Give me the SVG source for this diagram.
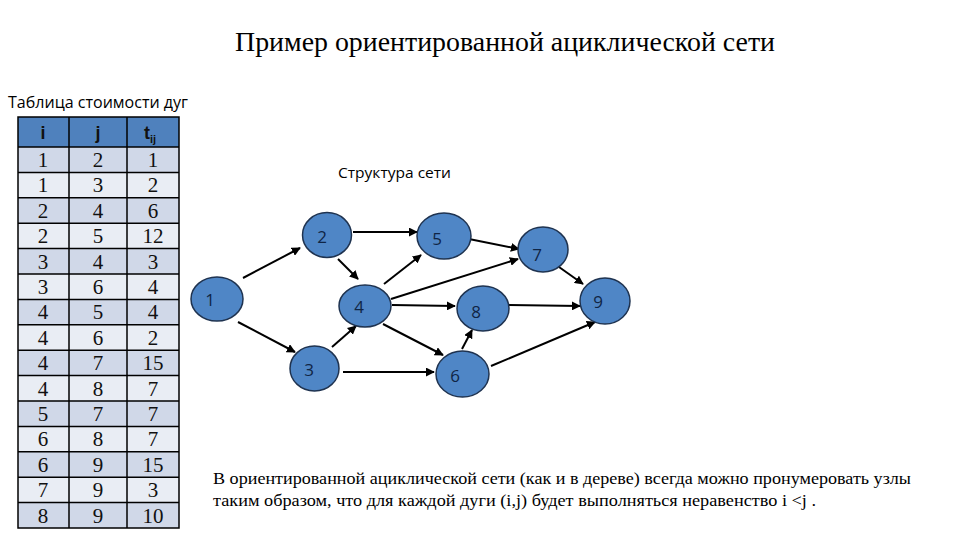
<svg xmlns="http://www.w3.org/2000/svg" width="960" height="540" viewBox="0 0 960 540">
<defs>
<style>
.ser{font-family:"Liberation Serif","Times New Roman",serif;fill:#000}
.sans{font-family:"Open Sans","Liberation Sans",sans-serif;fill:#000}
.cell{font-family:"Liberation Serif",serif;font-size:21px;fill:#111;text-anchor:middle}
.hd{font-family:"Liberation Sans",sans-serif;font-size:18px;font-weight:bold;fill:#111;text-anchor:middle}
.rd{fill:#D0D8E8}
.rl{fill:#E9EDF4}
.grid{stroke:#000;stroke-width:1.5;fill:none}
.node ellipse{fill:#4F86C6;stroke:#1F3350;stroke-width:1.5}
.node text{font-family:"Open Sans","Liberation Sans",sans-serif;font-size:17px;fill:#0F2545;text-anchor:middle;dominant-baseline:central}
.edge{stroke:#000;stroke-width:2;fill:none;marker-end:url(#ah)}
</style>
<marker id="ah" viewBox="0 0 10 10" refX="9" refY="5" markerWidth="4.5" markerHeight="4.5" orient="auto" markerUnits="strokeWidth">
<path d="M0,0 L10,5 L0,10 z" fill="#000"/>
</marker>
</defs>
<rect width="960" height="540" fill="#fff"/>
<text class="ser" x="505" y="51" font-size="28" text-anchor="middle" textLength="540" lengthAdjust="spacingAndGlyphs">Пример ориентированной ациклической сети</text>
<text class="sans" x="8" y="108" font-size="15.5" textLength="180" lengthAdjust="spacingAndGlyphs">Таблица стоимости дуг</text>

<g id="table">
<rect x="18" y="117" width="161" height="30" fill="#4F81BD"/>
<rect class="rd" x="18" y="147" width="161" height="25.4"/>
<rect class="rl" x="18" y="172.4" width="161" height="25.4"/>
<rect class="rd" x="18" y="197.8" width="161" height="25.4"/>
<rect class="rl" x="18" y="223.2" width="161" height="25.4"/>
<rect class="rd" x="18" y="248.6" width="161" height="25.4"/>
<rect class="rl" x="18" y="274" width="161" height="25.4"/>
<rect class="rd" x="18" y="299.4" width="161" height="25.4"/>
<rect class="rl" x="18" y="324.8" width="161" height="25.4"/>
<rect class="rd" x="18" y="350.2" width="161" height="25.4"/>
<rect class="rl" x="18" y="375.6" width="161" height="25.4"/>
<rect class="rd" x="18" y="401" width="161" height="25.4"/>
<rect class="rl" x="18" y="426.4" width="161" height="25.4"/>
<rect class="rd" x="18" y="451.8" width="161" height="25.4"/>
<rect class="rl" x="18" y="477.2" width="161" height="25.4"/>
<rect class="rd" x="18" y="502.6" width="161" height="25.4"/>
<path class="grid" d="M18,117 H179 V528 H18 Z M69,117 V528 M127,117 V528 M18,147 H179 M18,172.4 H179 M18,197.8 H179 M18,223.2 H179 M18,248.6 H179 M18,274 H179 M18,299.4 H179 M18,324.8 H179 M18,350.2 H179 M18,375.6 H179 M18,401 H179 M18,426.4 H179 M18,451.8 H179 M18,477.2 H179 M18,502.6 H179"/>
<text class="hd" x="43" y="139">i</text>
<text class="hd" x="98" y="139">j</text>
<text class="hd" x="150" y="139">t<tspan font-size="11" dy="4">ij</tspan></text>
<g class="cell">
<text x="43" y="167">1</text><text x="98" y="167">2</text><text x="153" y="167">1</text>
<text x="43" y="192.4">1</text><text x="98" y="192.4">3</text><text x="153" y="192.4">2</text>
<text x="43" y="217.8">2</text><text x="98" y="217.8">4</text><text x="153" y="217.8">6</text>
<text x="43" y="243.2">2</text><text x="98" y="243.2">5</text><text x="153" y="243.2">12</text>
<text x="43" y="268.6">3</text><text x="98" y="268.6">4</text><text x="153" y="268.6">3</text>
<text x="43" y="294">3</text><text x="98" y="294">6</text><text x="153" y="294">4</text>
<text x="43" y="319.4">4</text><text x="98" y="319.4">5</text><text x="153" y="319.4">4</text>
<text x="43" y="344.8">4</text><text x="98" y="344.8">6</text><text x="153" y="344.8">2</text>
<text x="43" y="370.2">4</text><text x="98" y="370.2">7</text><text x="153" y="370.2">15</text>
<text x="43" y="395.6">4</text><text x="98" y="395.6">8</text><text x="153" y="395.6">7</text>
<text x="43" y="421">5</text><text x="98" y="421">7</text><text x="153" y="421">7</text>
<text x="43" y="446.4">6</text><text x="98" y="446.4">8</text><text x="153" y="446.4">7</text>
<text x="43" y="471.8">6</text><text x="98" y="471.8">9</text><text x="153" y="471.8">15</text>
<text x="43" y="497.2">7</text><text x="98" y="497.2">9</text><text x="153" y="497.2">3</text>
<text x="43" y="522.6">8</text><text x="98" y="522.6">9</text><text x="153" y="522.6">10</text>
</g>
</g>

<text class="sans" x="338" y="178" font-size="15" textLength="113" lengthAdjust="spacingAndGlyphs">Структура сети</text>

<g id="connectors">
<line class="edge" x1="243" y1="278" x2="300" y2="248"/>
<line class="edge" x1="238" y1="322" x2="295" y2="352"/>
<line class="edge" x1="338" y1="259" x2="358" y2="279"/>
<line class="edge" x1="353" y1="232" x2="417" y2="232"/>
<line class="edge" x1="332" y1="347" x2="356" y2="326"/>
<line class="edge" x1="343" y1="372" x2="434" y2="372"/>
<line class="edge" x1="384" y1="284" x2="421" y2="255"/>
<line class="edge" x1="391" y1="299" x2="518" y2="259"/>
<line class="edge" x1="392" y1="305" x2="455" y2="306"/>
<line class="edge" x1="383" y1="324" x2="443" y2="355"/>
<line class="edge" x1="469" y1="239" x2="519" y2="249"/>
<line class="edge" x1="462" y1="349" x2="472" y2="330"/>
<line class="edge" x1="559" y1="267" x2="583" y2="284"/>
<line class="edge" x1="509" y1="305" x2="580" y2="306"/>
<line class="edge" x1="491" y1="366" x2="595" y2="322"/>
</g>

<g id="n1" class="node"><ellipse cx="217" cy="299" rx="26" ry="22"/><text x="210" y="299">1</text></g>
<g id="n2" class="node"><ellipse cx="327" cy="235" rx="24.5" ry="22.5"/><text x="322" y="236">2</text></g>
<g id="n3" class="node"><ellipse cx="314.5" cy="368.5" rx="24.5" ry="22.5"/><text x="309" y="369">3</text></g>
<g id="n4" class="node"><ellipse cx="365" cy="306" rx="26" ry="21"/><text x="359" y="306">4</text></g>
<g id="n5" class="node"><ellipse cx="444" cy="236" rx="27" ry="23"/><text x="437" y="238">5</text></g>
<g id="n6" class="node"><ellipse cx="462.5" cy="374" rx="26.5" ry="23"/><text x="455" y="375">6</text></g>
<g id="n7" class="node"><ellipse cx="543" cy="249.5" rx="25" ry="22.5"/><text x="537" y="254">7</text></g>
<g id="n8" class="node"><ellipse cx="483" cy="308.5" rx="26" ry="22.5"/><text x="476" y="311">8</text></g>
<g id="n9" class="node"><ellipse cx="605" cy="301" rx="25" ry="23"/><text x="598" y="301">9</text></g>

<text class="ser" x="213" y="484" font-size="16" textLength="698" lengthAdjust="spacingAndGlyphs">В ориентированной ациклической сети (как и в дереве) всегда можно пронумеровать узлы</text>
<text class="ser" x="213" y="506" font-size="16" textLength="603" lengthAdjust="spacingAndGlyphs">таким образом, что для каждой дуги (i,j) будет выполняться неравенство  i &lt;j .</text>
</svg>
